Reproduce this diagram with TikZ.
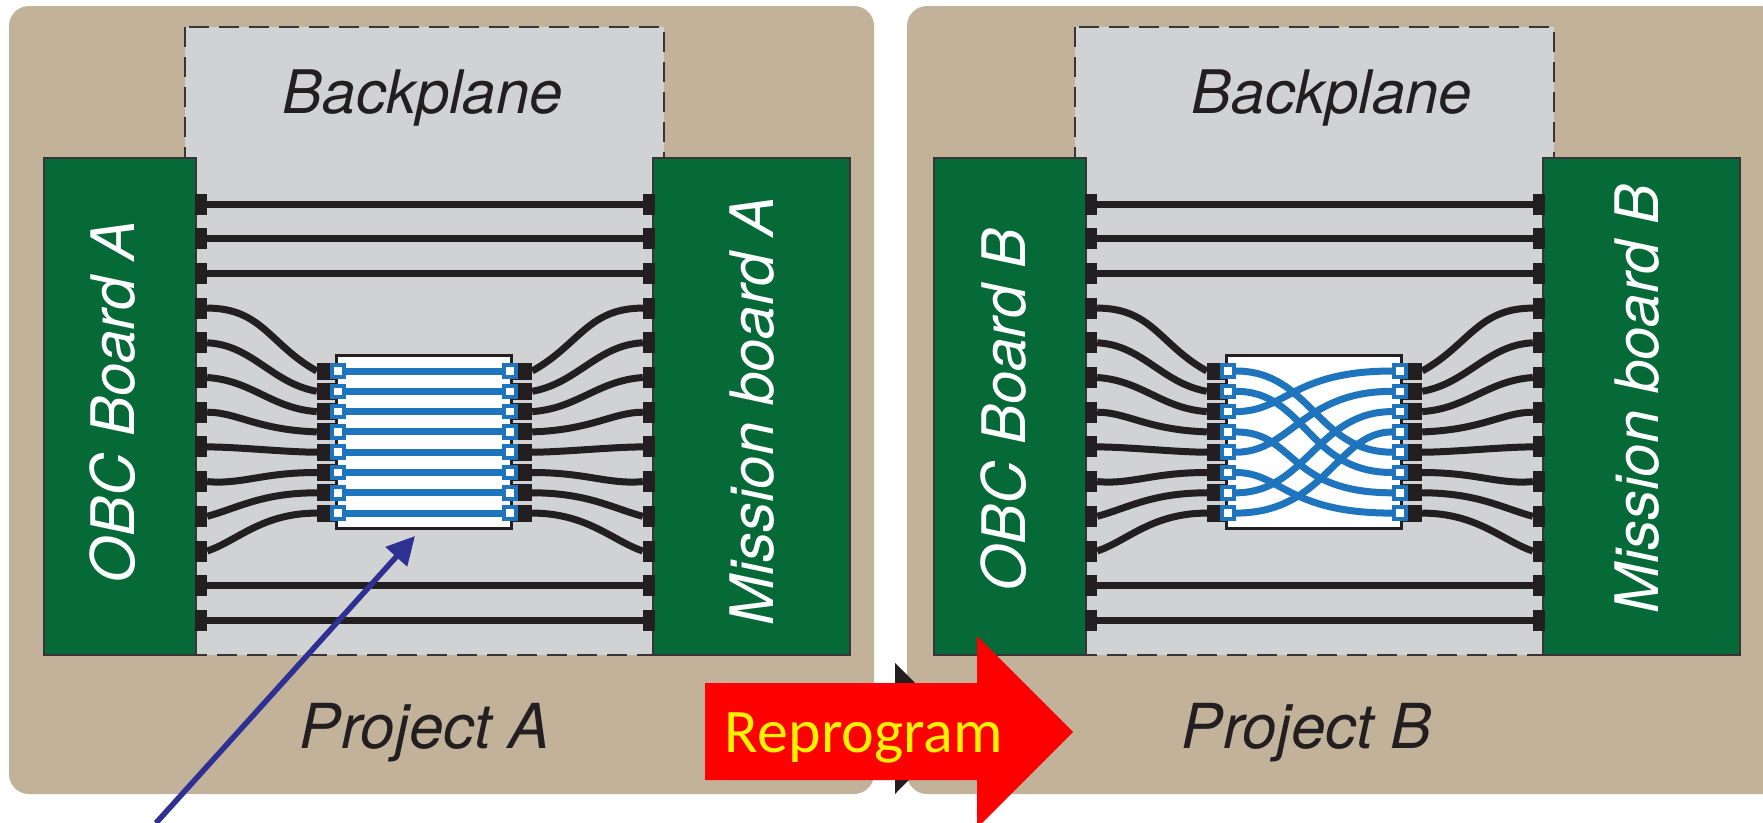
\documentclass[tikz,border=0pt]{standalone}
\usepackage{fontspec}
\usepackage{xcolor}
\usetikzlibrary{arrows.meta}
\setmainfont{TeX Gyre Heros}
\newfontfamily\calfont{Carlito}
\definecolor{panelcol}{HTML}{C1B299}
\definecolor{planecol}{HTML}{D0D2D3}
\definecolor{boardcol}{HTML}{066938}
\definecolor{inkcol}{HTML}{231F20}
\definecolor{routecol}{HTML}{1F75BD}
\definecolor{navycol}{HTML}{2E3192}
\tikzset{
  panelbox/.style={fill=panelcol, rounded corners=20pt},
  planebox/.style={fill=planecol, draw=inkcol!90, line width=2pt, dash pattern=on 20pt off 10pt},
  boardbox/.style={fill=boardcol, draw=inkcol!90, line width=2.5pt, inner sep=0pt, minimum height=497pt},
  padbox/.style={fill=inkcol, inner sep=0pt, minimum width=12pt, minimum height=21pt},
  chippad/.style={fill=inkcol, inner sep=0pt, minimum width=20pt, minimum height=17pt},
  chipbox/.style={fill=white, draw=inkcol, line width=3pt, inner sep=0pt, minimum width=175pt, minimum height=173pt},
  portbox/.style={fill=white, draw=routecol, line width=4pt, inner sep=0pt, minimum size=11.5pt},
  wire/.style={draw=inkcol, line width=7pt},
  route/.style={draw=routecol, line width=7pt},
  biglabel/.style={font=\fontsize{60}{70}\selectfont\itshape, text=inkcol, inner sep=0pt},
  boardlabel/.style={biglabel, text=white, rotate=90},
  projlabel/.style={font=\fontsize{62}{70}\selectfont\itshape, text=inkcol, inner sep=0pt}
}
\begin{document}
\begin{tikzpicture}[x=1pt, y=-1pt]
  \path[use as bounding box, clip] (0,0) rectangle (1763,822);
  \fill[white] (0,0) rectangle (1763,822);

  % Panels
  \fill[panelbox] (9,6) rectangle (874,794);
  \fill[panelbox] (907,6) rectangle (1783,794);

  % Everything that both projects share
  \foreach \p/\dx in {A/0,B/890}
  {
    \begin{scope}[xshift=\dx pt]
      \draw[planebox] (185,27) rectangle (664,655);
      \node[boardbox, minimum width=152pt] (obc\p) at (120,406.5) {};
      \node[boardbox, minimum width=197pt] (mis\p) at (751.5,406.5) {};

      % Pads on the boards
      \foreach \i [evaluate=\i as \yb using 204+34.7*\i] in {0,...,12}
      {
        \node[padbox] (l\p\i) at (201,\yb) {};
        \node[padbox] (r\p\i) at (649,\yb) {};
      }

      % Straight wires
      \foreach \i in {0,1,2,11,12}
      {
        \draw[wire] (l\p\i.east) -- (r\p\i.west);
      }

      % Chip with its pads and ports
      \node[chipbox] (chip\p) at (424,441.5) {};
      \foreach \c [evaluate=\c as \yc using 371+20.3*(\c-1)] in {1,...,8}
      {
        \node[chippad] (cl\p\c) at (327,\yc) {};
        \node[chippad] (cr\p\c) at (522,\yc) {};
        \node[portbox] (bl\p\c) at (338,\yc) {};
        \node[portbox] (br\p\c) at (510,\yc) {};
      }

      % Curved wires into the chip
      \foreach \b/\c/\sa/\ta/\sb/\tb in {3/1/55/0/47/-26, 4/2/45/2/45/-8, 5/3/45/3/45/-3,
        6/4/30/0/60/-2, 7/5/30/0/30/0, 8/6/35/3/55/0, 9/7/30/-8/55/0, 10/8/30/-10/55/0}
      {
        \draw[wire] (l\p\b.east) .. controls +(\sa,\ta) and +(-\sb,\tb) .. (cl\p\c.west);
        \draw[wire] (r\p\b.west) .. controls +(-\sa,\ta) and +(\sb,\tb) .. (cr\p\c.east);
      }
    \end{scope}
  }

  % Routes inside chip A
  \foreach \c in {1,...,8}
  {
    \draw[route] (blA\c.east) -- (brA\c.west);
  }

  % Routes inside chip B
  \foreach \a/\b/\ca/\cb in {1/5/75/75, 2/6/70/85, 3/1/50/100, 4/7/60/105,
    5/2/55/90, 6/8/45/105, 7/3/70/75, 8/4/90/55}
  {
    \draw[route] (blB\a.east) .. controls +(\ca,0) and +(-\cb,0) .. (brB\b.west);
  }

  % Labels
  \node[biglabel] (planeA) at (423,98) {Backplane};
  \node[biglabel] (planeB) at (1332,98) {Backplane};
  \node[boardlabel] (obcAtext) at (113,402) {OBC Board A};
  \node[boardlabel] (obcBtext) at (1004,410) {OBC Board B};
  \node[boardlabel] (misAtext) at (752,411) {Mission board A};
  \node[boardlabel] (misBtext) at (1637,399) {Mission board B};
  \node[projlabel] (projA) at (425,733) {Project A};
  \node[projlabel] (projB) at (1307,733) {Project B};

  % Arrow into chip A
  \coordinate (navyS) at (156,823);
  \coordinate (navyE) at (415,536);
  \draw[navycol, line width=5.5pt, -{Triangle[length=28pt,width=28pt]}] (navyS) -- (navyE);

  % Reprogram arrow
  \fill[inkcol] (895,663) -- (960,728) -- (895,794) -- cycle;
  \fill[red] (705,683) -- (977,683) -- (977,636) -- (1073,732) -- (977,828) -- (977,780) -- (705,780) -- cycle;
  \node[font=\calfont\fontsize{62}{70}\selectfont, text=yellow, inner sep=0pt] (reprogtext) at (864,738) {Reprogram};
\end{tikzpicture}
\end{document}
